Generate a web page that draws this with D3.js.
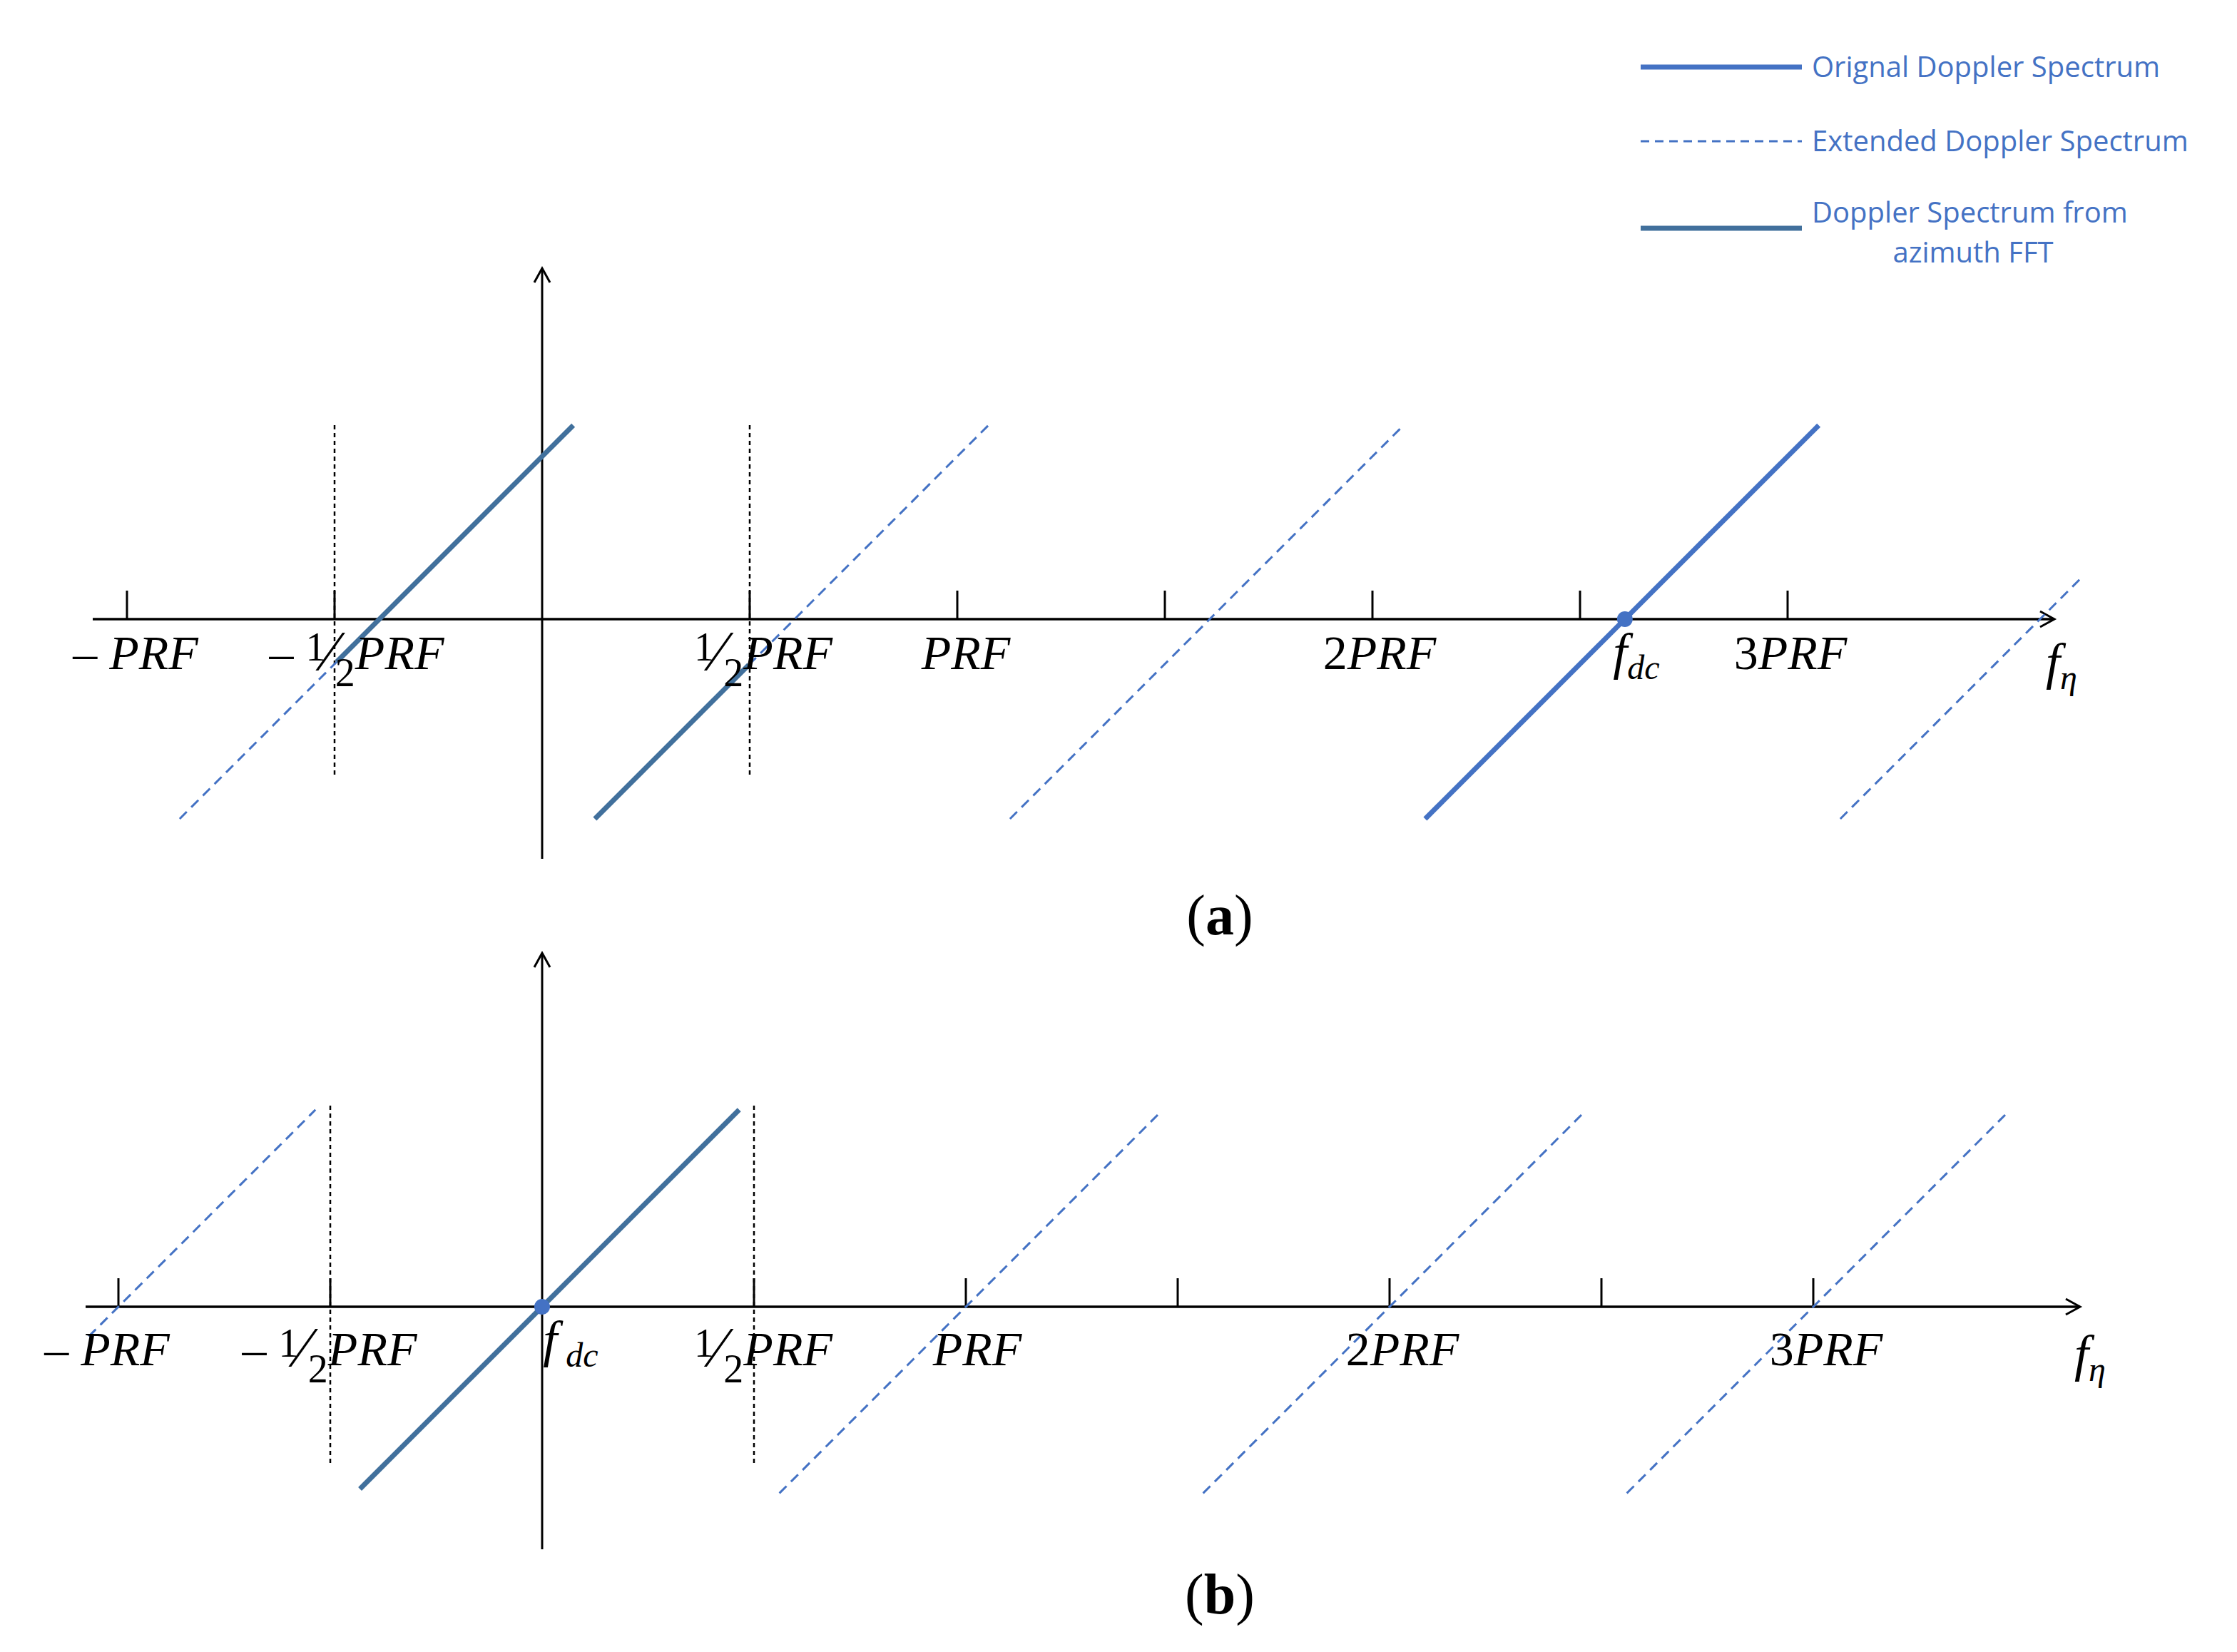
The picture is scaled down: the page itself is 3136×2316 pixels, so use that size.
<!DOCTYPE html>
<html>
<head>
<meta charset="utf-8">
<script src="https://cdn.jsdelivr.net/npm/d3@7"></script>
<style>
  body { margin: 0; background: #fff; }
  .math { font-family: "Liberation Serif", "DejaVu Serif", serif; font-style: italic; }
  .legend-text { font-family: "Open Sans", "Liberation Sans", sans-serif; fill: #4472c4; }
</style>
</head>
<body>
<div id="chart"></div>
<script>
// Spectrum segments: c = axis crossing (in PRF), v0/v1 = vertical extent, kind = style
const segmentsA = [
    { c: -0.392, v0: -0.103, v1: 0.467, kind: "fft" },
    { c: -0.392, v0: -0.481, v1: -0.103, kind: "ext" },
    { c: 0.608, v0: -0.481, v1: -0.110, kind: "fft" },
    { c: 0.608, v0: -0.110, v1: 0.467, kind: "ext" },
    { c: 1.608, v0: -0.481, v1: 0.467, kind: "ext" },
    { c: 2.608, v0: -0.481, v1: 0.467, kind: "orig" },
    { c: 3.608, v0: -0.481, v1: 0.103, kind: "ext" }
];
const segmentsB = [
    { c: 0, v0: -0.43, v1: 0.465, kind: "fft" },
    { c: -1, v0: -0.07, v1: 0.465, kind: "ext" },
    { c: 1, v0: -0.44, v1: 0.46, kind: "ext" },
    { c: 2, v0: -0.44, v1: 0.46, kind: "ext" },
    { c: 3, v0: -0.44, v1: 0.46, kind: "ext" }
];
const ticks = [-1, -0.5, 0.5, 1, 1.5, 2, 2.5, 3];
const halfLines = [-0.5, 0.5];
const fdcA = 2.608;
const fdcB = 0;
const legendItems = ["Orignal Doppler Spectrum", "Extended Doppler Spectrum", "Doppler Spectrum from"];

const W = 3136, H = 2316;
const COLORS = { orig: "#4472c4", ext: "#4472c4", fft: "#41709c" };

const svg = d3.select("#chart").append("svg").attr("width", W).attr("height", H);

function drawPanel(cfg) {
    const x = d3.scaleLinear().domain([0, 1]).range([cfg.x0, cfg.x0 + cfg.unit]);
    const y = d3.scaleLinear().domain([0, 1]).range([cfg.y0, cfg.y0 - cfg.unit]);
    const g = svg.append("g");

    // horizontal axis with arrow
    g.append("line").attr("x1", cfg.axL).attr("x2", cfg.axR).attr("y1", y(0)).attr("y2", y(0))
        .attr("stroke", "#000").attr("stroke-width", 3.5);
    g.append("path")
        .attr("d", `M${cfg.axR - 20},${y(0) - 11} L${cfg.axR},${y(0)} L${cfg.axR - 20},${y(0) + 11}`)
        .attr("fill", "none").attr("stroke", "#000").attr("stroke-width", 3);
    // vertical axis with arrow
    g.append("line").attr("x1", x(0)).attr("x2", x(0)).attr("y1", cfg.vTop).attr("y2", cfg.vBot)
        .attr("stroke", "#000").attr("stroke-width", 3);
    g.append("path")
        .attr("d", `M${x(0) - 11},${cfg.vTop + 20} L${x(0)},${cfg.vTop} L${x(0) + 11},${cfg.vTop + 20}`)
        .attr("fill", "none").attr("stroke", "#000").attr("stroke-width", 3);

    // ticks
    g.selectAll(".tick").data(ticks).enter().append("line")
        .attr("x1", d => x(d)).attr("x2", d => x(d))
        .attr("y1", y(0)).attr("y2", y(0) - 40)
        .attr("stroke", "#000").attr("stroke-width", 3);

    // half-PRF dotted lines
    g.selectAll(".half").data(halfLines).enter().append("line")
        .attr("x1", d => x(d)).attr("x2", d => x(d))
        .attr("y1", cfg.dTop).attr("y2", cfg.dBot)
        .attr("stroke", "#000").attr("stroke-width", 2.5).attr("stroke-dasharray", "6,5");

    // spectrum segments (slope 1 in PRF units)
    g.selectAll(".seg").data(cfg.segs).enter().append("line")
        .attr("x1", d => x(d.c + d.v0)).attr("y1", d => y(d.v0))
        .attr("x2", d => x(d.c + d.v1)).attr("y2", d => y(d.v1))
        .attr("stroke", d => COLORS[d.kind])
        .attr("stroke-width", d => d.kind === "ext" ? 3 : 7)
        .attr("stroke-dasharray", d => d.kind === "ext" ? "14,9" : null);

    g.append("circle").attr("cx", x(cfg.fdc)).attr("cy", y(0)).attr("r", 11).attr("fill", "#4472c4");

    // labels
    const base = y(0) + cfg.labelDy;
    function plain(txt, cx) {
        const t = g.append("text").attr("class", "math").attr("font-size", 68)
            .attr("x", cx).attr("y", base).attr("text-anchor", "middle");
        if (txt.startsWith("-")) {
            t.append("tspan").attr("font-style", "normal").text("\u2013 ");
            t.append("tspan").text(txt.slice(1));
        } else {
            const m = txt.match(/^(\d*)(.*)$/);
            if (m[1]) t.append("tspan").attr("font-style", "normal").text(m[1]);
            t.append("tspan").text(m[2]);
        }
    }
    function half(neg, cx) {
        const t = g.append("text").attr("class", "math").attr("font-size", 68)
            .attr("x", cx).attr("y", base).attr("text-anchor", "middle");
        if (neg) t.append("tspan").attr("font-style", "normal").text("\u2013 ");
        t.append("tspan").attr("font-style", "normal").attr("font-size", 56).attr("dy", -12).text("1");
        t.append("tspan").attr("font-style", "normal").attr("font-size", 80).attr("dy", 14).text("\u2044");
        t.append("tspan").attr("font-style", "normal").attr("font-size", 56).attr("dy", 22).text("2");
        t.append("tspan").attr("dy", -24).text("PRF");
    }
    function sub(main, s, cx, dy) {
        const t = g.append("text").attr("class", "math").attr("font-size", 72)
            .attr("x", cx).attr("y", base + dy).attr("text-anchor", "middle");
        t.append("tspan").text(main);
        t.append("tspan").attr("font-size", 48).attr("dy", 14).text(s);
    }
    cfg.labels.forEach(l => {
        if (l.t === "half") half(l.neg, l.cx);
        else if (l.t === "sub") sub(l.main, l.s, l.cx, l.dy || 0);
        else plain(l.txt, l.cx);
    });
}

drawPanel({
    x0: 760, unit: 582, y0: 868, axL: 130, axR: 2880, vTop: 376, vBot: 1204,
    dTop: 596, dBot: 1090, segs: segmentsA, fdc: fdcA, labelDy: 70,
    labels: [
        { txt: "-PRF", cx: 190 },
        { t: "half", neg: true, cx: 500 },
        { t: "half", neg: false, cx: 1070 },
        { txt: "PRF", cx: 1354 },
        { txt: "2PRF", cx: 1934 },
        { t: "sub", main: "f", s: "dc", cx: 2294, dy: 0 },
        { txt: "3PRF", cx: 2510 },
        { t: "sub", main: "f", s: "\u03b7", cx: 2890, dy: 14 }
    ]
});
drawPanel({
    x0: 760, unit: 594, y0: 1832, axL: 120, axR: 2916, vTop: 1336, vBot: 2172,
    dTop: 1550, dBot: 2056, segs: segmentsB, fdc: fdcB, labelDy: 82,
    labels: [
        { txt: "-PRF", cx: 150 },
        { t: "half", neg: true, cx: 462 },
        { t: "sub", main: "f", s: " dc", cx: 800, dy: -12 },
        { t: "half", neg: false, cx: 1070 },
        { txt: "PRF", cx: 1370 },
        { txt: "2PRF", cx: 1966 },
        { txt: "3PRF", cx: 2560 },
        { t: "sub", main: "f", s: "\u03b7", cx: 2930, dy: 8 }
    ]
});

// panel captions
[["a", 1310], ["b", 2262]].forEach(([k, yy]) => {
    const t = svg.append("text").attr("x", 1710).attr("y", yy).attr("text-anchor", "middle")
        .attr("font-family", "Liberation Serif, serif").attr("font-size", 80);
    t.append("tspan").text("(");
    t.append("tspan").attr("font-weight", "bold").text(k);
    t.append("tspan").text(")");
});

// legend
const legendY = [94, 198, 320];
const legendKinds = ["orig", "ext", "fft"];
const lg = svg.append("g");
legendKinds.forEach((k, i) => {
    lg.append("line").attr("x1", 2300).attr("x2", 2526).attr("y1", legendY[i]).attr("y2", legendY[i])
        .attr("stroke", COLORS[k]).attr("stroke-width", k === "ext" ? 3 : 7)
        .attr("stroke-dasharray", k === "ext" ? "12,8" : null);
    lg.append("text").attr("class", "legend-text").attr("font-size", 40)
        .attr("x", 2540).attr("y", i === 2 ? 312 : legendY[i] + 14).text(legendItems[i]);
});
lg.append("text").attr("class", "legend-text").attr("font-size", 40)
    .attr("x", 2766).attr("y", 368).attr("text-anchor", "middle").text("azimuth FFT");
</script>
</body>
</html>
